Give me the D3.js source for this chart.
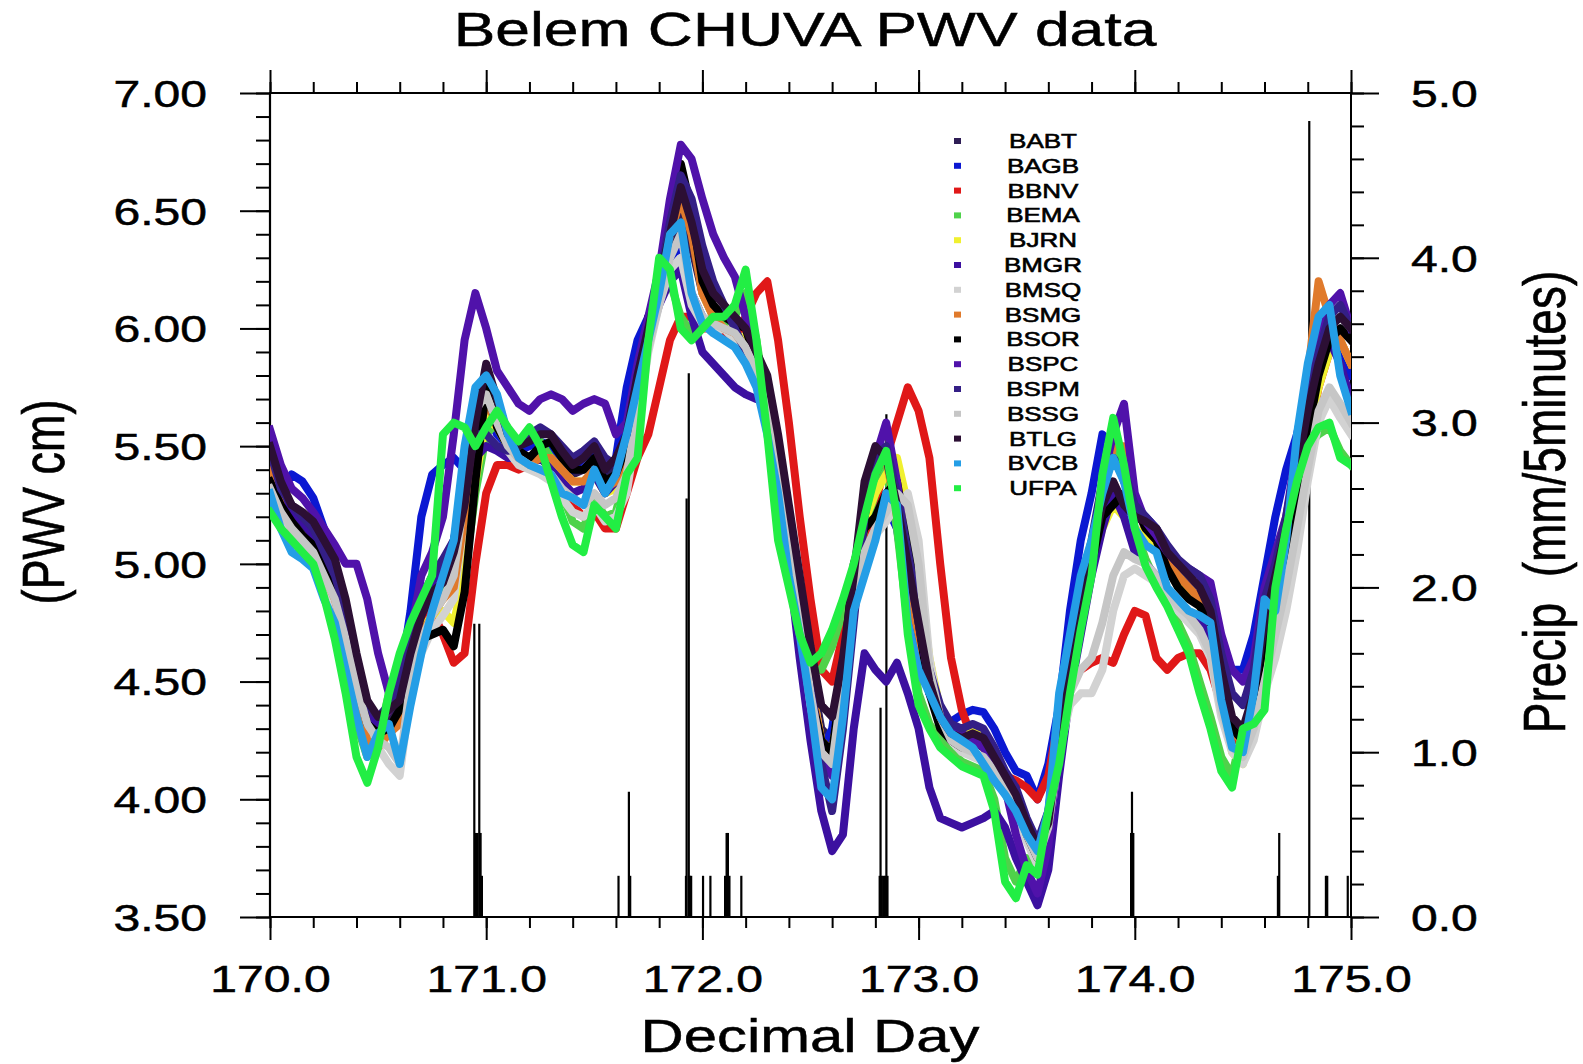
<!DOCTYPE html>
<html>
<head>
<meta charset="utf-8">
<script src="https://cdn.jsdelivr.net/npm/d3@7"></script>
<style>
  body { margin: 0; background: #fff; }
  svg { display: block; }
  text { font-family: 'Liberation Sans', Arial, Helvetica, sans-serif; fill: #000; stroke: #000; stroke-width: 0.5px; }
</style>
</head>
<body>
<svg id="chart"></svg>
<script>
// station names, legend order (also draw order)
const STATIONS = ['BABT', 'BAGB', 'BBNV', 'BEMA', 'BJRN', 'BMGR', 'BMSQ', 'BSMG',
  'BSOR', 'BSPC', 'BSPM', 'BSSG', 'BTLG', 'BVCB', 'UFPA'];

const COLORS = ['#2e1d55', '#0b18d2', '#e01818', '#4fd24a', '#f0f030', '#3c10a0', '#d2d2d2', '#e07a2c',
  '#000000', '#5012aa', '#341f86', '#c6c6c6', '#2c0f34', '#249ee6', '#22ee44'];

// PWV (cm) sampled every 0.05 day from 170.00 to 175.00
const DAYS = d3.range(101).map(i => +(170 + i * 0.05).toFixed(2));

const BABT = [5.42, 5.30, 5.20, 5.15, 5.10, 5.02, 4.92, 4.75, 4.55, 4.38, 4.32, 4.35, 4.40, 4.58, 4.72,
  4.82, 4.88, 4.95, 5.15, 5.50, 5.70, 5.62, 5.52, 5.48, 5.45, 5.50, 5.48, 5.42, 5.38, 5.40,
  5.45, 5.38, 5.40, 5.52, 5.75, 5.95, 6.15, 6.35, 6.50, 6.35, 6.15, 6.05, 6.00, 5.95, 5.92,
  5.85, 5.72, 5.50, 5.20, 4.90, 4.55, 4.30, 4.25, 4.55, 4.90, 5.20, 5.35, 5.40, 5.20, 4.95,
  4.70, 4.48, 4.33, 4.27, 4.24, 4.25, 4.24, 4.15, 4.08, 4.00, 3.88, 3.78, 3.92, 4.28, 4.62,
  4.85, 5.00, 5.20, 5.28, 5.22, 5.15, 5.12, 5.10, 5.00, 4.95, 4.90, 4.85, 4.75, 4.50, 4.30,
  4.28, 4.42, 4.72, 4.92, 5.10, 5.35, 5.60, 5.80, 5.95, 6.00, 5.95];

const BAGB = [5.40, 5.30, 5.38, 5.35, 5.28, 5.15, 5.00, 4.80, 4.55, 4.35, 4.32, 4.40, 4.50, 4.80, 5.20,
  5.38, 5.42, 5.45, 5.40, 5.60, 5.65, 5.55, 5.50, 5.48, 5.50, 5.52, 5.50, 5.45, 5.40, 5.45,
  5.48, 5.40, 5.45, 5.75, 5.95, 6.05, 6.15, 6.30, 6.35, 6.15, 6.05, 6.00, 5.98, 5.95, 5.90,
  5.80, 5.65, 5.40, 5.10, 4.80, 4.45, 4.20, 4.30, 4.60, 4.90, 5.10, 5.20, 5.25, 5.15, 4.85,
  4.60, 4.45, 4.35, 4.33, 4.36, 4.38, 4.37, 4.30, 4.20, 4.12, 4.10, 4.00, 4.15, 4.40, 4.80,
  5.10, 5.30, 5.55, 5.50, 5.35, 5.25, 5.20, 5.15, 5.00, 4.95, 4.90, 4.85, 4.80, 4.65, 4.55,
  4.55, 4.70, 4.95, 5.20, 5.40, 5.55, 5.75, 5.95, 6.00, 5.95, 5.80];

const BBNV = [5.35, 5.20, 5.12, 5.08, 5.02, 4.92, 4.80, 4.62, 4.45, 4.35, 4.32, 4.38, 4.45, 4.60, 4.72,
  4.80, 4.70, 4.58, 4.62, 5.00, 5.30, 5.42, 5.42, 5.40, 5.42, 5.45, 5.42, 5.35, 5.25, 5.20,
  5.22, 5.15, 5.15, 5.30, 5.45, 5.55, 5.75, 5.95, 6.05, 6.05, 6.00, 6.00, 5.98, 5.95, 6.05,
  6.15, 6.20, 5.95, 5.60, 5.20, 4.85, 4.55, 4.50, 4.70, 4.95, 5.10, 5.25, 5.45, 5.60, 5.75,
  5.65, 5.45, 5.00, 4.60, 4.38, 4.25, 4.22, 4.18, 4.10, 4.08, 4.05, 4.00, 4.10, 4.35, 4.50,
  4.55, 4.58, 4.60, 4.58, 4.70, 4.80, 4.78, 4.60, 4.55, 4.60, 4.62, 4.62, 4.55, 4.40, 4.25,
  4.25, 4.40, 4.75, 4.95, 5.10, 5.25, 5.50, 5.75, 5.90, 5.95, 5.85];

const BEMA = [5.28, 5.18, 5.10, 5.05, 5.00, 4.90, 4.75, 4.55, 4.32, 4.18, 4.25, 4.45, 4.60, 4.72, 4.82,
  4.88, 4.90, 4.92, 4.95, 5.30, 5.55, 5.60, 5.55, 5.50, 5.55, 5.52, 5.45, 5.30, 5.18, 5.15,
  5.28, 5.20, 5.22, 5.40, 5.60, 5.95, 6.25, 6.20, 6.05, 5.98, 6.00, 6.02, 6.02, 6.05, 6.15,
  5.95, 5.65, 5.25, 4.95, 4.72, 4.55, 4.55, 4.65, 4.80, 4.95, 5.15, 5.30, 5.40, 5.15, 4.75,
  4.45, 4.32, 4.25, 4.20, 4.16, 4.14, 4.12, 4.00, 3.75, 3.65, 3.75, 3.72, 3.95, 4.20, 4.50,
  4.75, 4.98, 5.30, 5.55, 5.40, 5.15, 5.02, 4.92, 4.85, 4.75, 4.65, 4.50, 4.35, 4.18, 4.10,
  4.30, 4.35, 4.45, 4.92, 5.15, 5.35, 5.50, 5.55, 5.58, 5.48, 5.42];

const BJRN = [5.38, 5.22, 5.15, 5.10, 5.05, 4.95, 4.85, 4.68, 4.48, 4.32, 4.25, 4.28, 4.35, 4.58, 4.72,
  4.78, 4.80, 4.75, 4.95, 5.35, 5.62, 5.58, 5.50, 5.45, 5.42, 5.45, 5.45, 5.40, 5.35, 5.35,
  5.38, 5.30, 5.32, 5.42, 5.68, 5.95, 6.20, 6.50, 6.65, 6.45, 6.15, 6.05, 6.00, 5.98, 5.95,
  5.85, 5.70, 5.45, 5.15, 4.85, 4.50, 4.25, 4.20, 4.50, 4.90, 5.18, 5.30, 5.38, 5.45, 5.25,
  4.95, 4.60, 4.38, 4.30, 4.28, 4.30, 4.28, 4.20, 4.10, 4.02, 3.88, 3.78, 3.90, 4.25, 4.55,
  4.80, 4.98, 5.15, 5.25, 5.20, 5.15, 5.12, 5.08, 4.98, 4.92, 4.88, 4.82, 4.72, 4.45, 4.20,
  4.15, 4.35, 4.65, 4.90, 5.10, 5.35, 5.55, 5.75, 5.90, 5.95, 5.85];

const BMGR = [5.45, 5.30, 5.22, 5.18, 5.12, 5.02, 4.90, 4.72, 4.50, 4.35, 4.32, 4.38, 4.45, 4.62, 4.80,
  4.92, 5.00, 5.10, 5.30, 5.45, 5.50, 5.48, 5.45, 5.45, 5.42, 5.45, 5.40, 5.35, 5.30, 5.32,
  5.38, 5.30, 5.35, 5.50, 5.75, 5.95, 6.10, 6.20, 6.25, 6.05, 5.90, 5.85, 5.80, 5.75, 5.72,
  5.70, 5.72, 5.35, 5.00, 4.60, 4.25, 3.95, 3.78, 3.85, 4.30, 4.62, 4.55, 4.50, 4.58, 4.45,
  4.30, 4.05, 3.92, 3.90, 3.88, 3.90, 3.92, 3.95, 3.88, 3.75, 3.65, 3.55, 3.70, 4.10, 4.45,
  4.70, 4.95, 5.15, 5.30, 5.20, 5.05, 5.00, 4.95, 4.88, 4.82, 4.78, 4.75, 4.70, 4.50, 4.30,
  4.25, 4.40, 4.70, 4.95, 5.10, 5.40, 5.70, 5.90, 5.95, 5.85, 5.70];

const BMSQ = [5.30, 5.20, 5.12, 5.08, 5.02, 4.92, 4.82, 4.62, 4.42, 4.28, 4.22, 4.15, 4.10, 4.45, 4.62,
  4.72, 4.78, 4.85, 5.20, 5.60, 5.75, 5.65, 5.48, 5.42, 5.40, 5.38, 5.35, 5.28, 5.22, 5.20,
  5.25, 5.18, 5.20, 5.30, 5.60, 5.90, 6.10, 6.25, 6.30, 6.10, 6.02, 5.98, 6.00, 5.95, 5.88,
  5.78, 5.60, 5.35, 5.05, 4.75, 4.40, 4.15, 4.10, 4.45, 4.85, 5.05, 5.12, 5.18, 5.25, 5.30,
  5.10, 4.60, 4.35, 4.25, 4.20, 4.18, 4.16, 4.10, 4.02, 3.95, 3.82, 3.72, 3.85, 4.20, 4.40,
  4.45, 4.45, 4.55, 4.80, 4.95, 4.98, 4.95, 4.92, 4.85, 4.80, 4.75, 4.70, 4.60, 4.35, 4.20,
  4.15, 4.25, 4.45, 4.60, 4.80, 5.05, 5.35, 5.60, 5.70, 5.62, 5.55];

const BSMG = [5.40, 5.25, 5.15, 5.12, 5.05, 4.95, 4.85, 4.68, 4.45, 4.25, 4.22, 4.28, 4.32, 4.55, 4.70,
  4.78, 4.85, 4.90, 5.20, 5.55, 5.68, 5.60, 5.50, 5.45, 5.42, 5.45, 5.45, 5.40, 5.35, 5.35,
  5.40, 5.32, 5.35, 5.45, 5.70, 5.95, 6.15, 6.40, 6.55, 6.40, 6.15, 6.05, 6.00, 5.98, 5.92,
  5.82, 5.68, 5.45, 5.15, 4.85, 4.50, 4.25, 4.20, 4.50, 4.90, 5.20, 5.40, 5.45, 5.20, 4.90,
  4.70, 4.48, 4.33, 4.27, 4.25, 4.26, 4.25, 4.17, 4.08, 4.00, 3.87, 3.77, 3.90, 4.25, 4.58,
  4.85, 5.05, 5.30, 5.50, 5.50, 5.25, 5.15, 5.10, 5.02, 4.95, 4.90, 4.85, 4.75, 4.48, 4.28,
  4.25, 4.40, 4.75, 4.95, 5.15, 5.45, 5.80, 6.20, 6.05, 5.95, 5.85];

const BSOR = [5.35, 5.25, 5.18, 5.12, 5.08, 4.98, 4.88, 4.70, 4.50, 4.32, 4.28, 4.30, 4.38, 4.55, 4.68,
  4.70, 4.72, 4.65, 4.88, 5.35, 5.75, 5.58, 5.50, 5.48, 5.45, 5.50, 5.52, 5.45, 5.40, 5.40,
  5.45, 5.35, 5.38, 5.50, 5.80, 6.05, 6.15, 6.45, 6.70, 6.50, 6.20, 6.10, 6.05, 6.02, 6.00,
  5.85, 5.70, 5.45, 5.15, 4.85, 4.45, 4.25, 4.20, 4.55, 5.00, 5.15, 5.20, 5.30, 5.35, 5.10,
  4.75, 4.45, 4.30, 4.25, 4.22, 4.25, 4.22, 4.15, 4.08, 4.00, 3.85, 3.75, 3.88, 4.25, 4.55,
  4.80, 5.00, 5.20, 5.25, 5.30, 5.25, 5.15, 5.10, 4.98, 4.90, 4.85, 4.82, 4.75, 4.50, 4.30,
  4.25, 4.40, 4.70, 4.90, 5.05, 5.30, 5.55, 5.80, 5.95, 6.00, 5.95];

const BSPC = [5.57, 5.42, 5.32, 5.28, 5.22, 5.15, 5.08, 5.00, 5.00, 4.85, 4.62, 4.45, 4.50, 4.70, 4.95,
  5.05, 5.20, 5.55, 5.95, 6.15, 6.00, 5.82, 5.75, 5.68, 5.65, 5.70, 5.72, 5.70, 5.65, 5.68,
  5.70, 5.68, 5.55, 5.60, 5.85, 6.05, 6.25, 6.55, 6.78, 6.72, 6.55, 6.40, 6.30, 6.22, 6.05,
  5.90, 5.70, 5.40, 5.10, 4.80, 4.45, 4.20, 4.10, 4.50, 4.85, 5.25, 5.45, 5.60, 5.35, 5.00,
  4.75, 4.50, 4.35, 4.30, 4.28, 4.25, 4.22, 4.15, 4.05, 3.85, 3.70, 3.60, 3.80, 4.25, 4.55,
  4.80, 5.05, 5.35, 5.55, 5.68, 5.30, 5.18, 5.12, 5.05, 5.00, 4.98, 4.95, 4.92, 4.70, 4.55,
  4.50, 4.60, 4.90, 5.05, 5.20, 5.50, 5.75, 5.95, 6.10, 6.15, 6.00];

const BSPM = [5.48, 5.32, 5.25, 5.20, 5.15, 5.05, 4.95, 4.80, 4.60, 4.40, 4.35, 4.40, 4.48, 4.68, 4.85,
  4.95, 5.02, 5.10, 5.35, 5.55, 5.55, 5.50, 5.48, 5.50, 5.55, 5.58, 5.55, 5.50, 5.45, 5.48,
  5.52, 5.45, 5.42, 5.55, 5.80, 6.00, 6.20, 6.45, 6.65, 6.55, 6.35, 6.20, 6.10, 6.00, 5.90,
  5.80, 5.65, 5.45, 5.15, 4.85, 4.50, 4.15, 3.95, 4.30, 4.75, 5.20, 5.45, 5.50, 5.30, 5.05,
  4.80, 4.55, 4.40, 4.32, 4.30, 4.32, 4.30, 4.22, 4.12, 4.05, 3.92, 3.82, 3.95, 4.30, 4.60,
  4.90, 5.10, 5.35, 5.45, 5.40, 5.25, 5.20, 5.15, 5.08, 5.02, 4.98, 4.95, 4.85, 4.62, 4.45,
  4.40, 4.55, 4.85, 5.00, 5.20, 5.45, 5.70, 5.90, 6.05, 6.10, 6.00];

const BSSG = [5.32, 5.22, 5.15, 5.10, 5.05, 4.95, 4.85, 4.68, 4.48, 4.32, 4.25, 4.22, 4.15, 4.50, 4.68,
  4.78, 4.85, 4.95, 5.30, 5.65, 5.72, 5.60, 5.50, 5.45, 5.42, 5.40, 5.38, 5.32, 5.28, 5.25,
  5.30, 5.25, 5.28, 5.38, 5.65, 5.92, 6.10, 6.30, 6.40, 6.15, 6.05, 6.02, 6.00, 5.98, 5.92,
  5.82, 5.65, 5.40, 5.10, 4.80, 4.45, 4.20, 4.15, 4.50, 4.88, 5.05, 5.15, 5.22, 5.30, 5.25,
  5.00, 4.55, 4.35, 4.25, 4.22, 4.20, 4.18, 4.12, 4.05, 3.98, 3.85, 3.75, 3.88, 4.22, 4.45,
  4.55, 4.60, 4.75, 4.95, 5.05, 5.02, 5.00, 4.95, 4.88, 4.82, 4.78, 4.72, 4.62, 4.38, 4.22,
  4.18, 4.30, 4.50, 4.70, 4.90, 5.15, 5.40, 5.65, 5.75, 5.68, 5.60];

const BTLG = [5.50, 5.35, 5.25, 5.22, 5.18, 5.10, 5.02, 4.85, 4.62, 4.42, 4.35, 4.38, 4.42, 4.62, 4.78,
  4.88, 4.92, 5.05, 5.25, 5.60, 5.85, 5.70, 5.55, 5.50, 5.52, 5.55, 5.55, 5.48, 5.42, 5.45,
  5.50, 5.40, 5.45, 5.55, 5.80, 6.00, 6.20, 6.40, 6.60, 6.45, 6.25, 6.15, 6.10, 6.05, 6.00,
  5.90, 5.80, 5.55, 5.25, 4.95, 4.65, 4.40, 4.35, 4.60, 4.95, 5.35, 5.50, 5.45, 5.25, 5.00,
  4.75, 4.50, 4.35, 4.28, 4.26, 4.28, 4.26, 4.18, 4.10, 4.02, 3.90, 3.80, 3.90, 4.25, 4.60,
  4.85, 5.05, 5.25, 5.35, 5.25, 5.20, 5.18, 5.15, 5.05, 5.00, 4.95, 4.90, 4.80, 4.55, 4.35,
  4.30, 4.45, 4.75, 4.95, 5.15, 5.40, 5.65, 5.85, 6.00, 6.05, 6.00];

const BVCB = [5.30, 5.15, 5.05, 5.02, 4.98, 4.85, 4.75, 4.55, 4.35, 4.18, 4.28, 4.32, 4.15, 4.40, 4.62,
  4.80, 4.95, 5.10, 5.50, 5.75, 5.80, 5.72, 5.55, 5.45, 5.42, 5.40, 5.38, 5.30, 5.28, 5.25,
  5.40, 5.30, 5.38, 5.55, 5.75, 5.95, 6.15, 6.40, 6.45, 6.15, 6.02, 5.98, 5.95, 5.92, 5.85,
  5.75, 5.55, 5.30, 4.95, 4.70, 4.40, 4.05, 4.00, 4.35, 4.80, 4.95, 5.10, 5.30, 5.25, 4.75,
  4.55, 4.45, 4.35, 4.28, 4.25, 4.22, 4.15, 4.08, 4.02, 3.95, 3.85, 3.78, 3.95, 4.45, 4.70,
  4.95, 5.10, 5.30, 5.45, 5.35, 5.15, 5.08, 5.05, 4.90, 4.85, 4.80, 4.78, 4.75, 4.42, 4.22,
  4.20, 4.45, 4.85, 4.80, 5.10, 5.55, 5.85, 6.05, 6.10, 5.80, 5.65];

const UFPA = [5.22, 5.15, 5.10, 5.05, 5.00, 4.86, 4.68, 4.45, 4.18, 4.07, 4.22, 4.45, 4.62, 4.75, 4.85,
  4.95, 5.55, 5.60, 5.58, 5.50, 5.58, 5.65, 5.58, 5.52, 5.58, 5.50, 5.35, 5.20, 5.08, 5.05,
  5.25, 5.20, 5.15, 5.38, 5.45, 5.95, 6.30, 6.25, 6.00, 5.95, 6.00, 6.05, 6.05, 6.10, 6.25,
  5.95, 5.55, 5.10, 4.90, 4.70, 4.58, 4.62, 4.72, 4.85, 5.00, 5.20, 5.38, 5.48, 5.20, 4.70,
  4.40, 4.30, 4.22, 4.18, 4.14, 4.12, 4.10, 3.95, 3.65, 3.58, 3.72, 3.68, 3.95, 4.15, 4.45,
  4.72, 4.95, 5.38, 5.62, 5.42, 5.15, 4.99, 4.90, 4.82, 4.72, 4.62, 4.45, 4.30, 4.12, 4.05,
  4.30, 4.32, 4.38, 4.90, 5.15, 5.35, 5.50, 5.58, 5.60, 5.45, 5.42];

const SERIES = [BABT, BAGB, BBNV, BEMA, BJRN, BMGR, BMSQ, BSMG, BSOR, BSPC, BSPM, BSSG, BTLG, BVCB, UFPA];

// precipitation (mm / 5 minutes): [decimal day, amount]
const PRECIP = [
  [170.000, 5.08],
  [170.945, 1.78], [170.950, 0.51], [170.955, 0.51], [170.960, 0.51], [170.968, 1.78], [170.974, 0.51], [170.980, 0.25],
  [171.612, 0.25], [171.660, 0.76], [171.666, 0.25],
  [171.924, 0.25], [171.927, 2.54], [171.937, 3.30], [171.942, 0.25], [171.948, 0.25],
  [172.003, 0.25], [172.037, 0.25], [172.105, 0.25], [172.112, 0.51], [172.118, 0.51], [172.125, 0.25], [172.180, 0.25],
  [172.820, 0.25], [172.824, 1.27], [172.830, 0.25], [172.838, 0.25], [172.845, 0.25], [172.851, 3.05], [172.856, 0.25],
  [173.983, 0.51], [173.987, 0.76], [173.993, 0.51],
  [174.662, 0.25], [174.668, 0.51],
  [174.807, 4.83],
  [174.884, 0.25], [174.890, 0.25],
  [174.985, 0.25]
];

const X_MAJOR = [170, 171, 172, 173, 174, 175];
const X_MINOR = d3.range(170, 175.001, 0.2);
const PWV_MAJOR = [3.5, 4.0, 4.5, 5.0, 5.5, 6.0, 6.5, 7.0];
const PWV_MINOR = d3.range(3.5, 7.001, 0.1);
const PRECIP_MAJOR = [0, 1, 2, 3, 4, 5];
const PRECIP_MINOR = d3.range(0, 5.001, 0.2);

const config = {
  width: 1583,
  height: 1064,
  margin: {top: 93, right: 232, bottom: 147, left: 270},
  stretch: 1.3   // the reference glyphs are drawn wide
};

const svg = d3.select('#chart')
  .attr('width', config.width)
  .attr('height', config.height);

const innerW = config.width - config.margin.left - config.margin.right;
const innerH = config.height - config.margin.top - config.margin.bottom;

const chart = svg.append('g')
  .attr('transform', `translate(${config.margin.left},${config.margin.top})`);

const xScale = d3.scaleLinear().domain([170, 175]).range([0, innerW]);
const yLeft = d3.scaleLinear().domain([3.5, 7.0]).range([innerH, 0]);
const yRight = d3.scaleLinear().domain([0, 5]).range([innerH, 0]);

svg.append('clipPath')
  .attr('id', 'plot-area')
  .append('rect')
  .attr('x', config.margin.left)
  .attr('y', config.margin.top)
  .attr('width', innerW)
  .attr('height', innerH);

// precipitation bars on the right axis
chart.append('g')
  .attr('class', 'precip')
  .selectAll('line')
  .data(PRECIP)
  .join('line')
  .attr('x1', d => xScale(d[0]))
  .attr('x2', d => xScale(d[0]))
  .attr('y1', yRight(0))
  .attr('y2', d => yRight(Math.min(d[1], 5)))
  .attr('stroke', '#000')
  .attr('stroke-width', 2.2);

// PWV series, drawn in legend order so UFPA ends on top
const line = d3.line()
  .x((d, i) => xScale(DAYS[i]))
  .y(d => yLeft(d));

const marks = svg.append('g')
  .attr('clip-path', 'url(#plot-area)')
  .append('g')
  .attr('transform', `translate(${config.margin.left},${config.margin.top})`);

marks.selectAll('.pwv-line')
  .data(SERIES)
  .join('path')
  .attr('class', 'pwv-line')
  .attr('d', d => line(d))
  .attr('fill', 'none')
  .attr('stroke', (d, i) => COLORS[i])
  .attr('stroke-width', 8)
  .attr('stroke-linejoin', 'round')
  .attr('stroke-linecap', 'square');

// axes: major and minor ticks all point outward
function drawAxis(axisFn, scale, major, minor, bigTick, smallTick, transform, withLabels, fmt) {
  const gMinor = chart.append('g').attr('transform', transform)
    .call(axisFn(scale).tickValues(minor).tickSize(smallTick).tickSizeOuter(0).tickFormat(''));
  const gMajor = chart.append('g').attr('transform', transform)
    .call(axisFn(scale).tickValues(major).tickSize(bigTick).tickSizeOuter(0)
      .tickFormat(withLabels ? fmt : ''));
  [gMinor, gMajor].forEach(g => {
    g.select('.domain').remove();
    g.selectAll('line').attr('stroke', '#000').attr('stroke-width', 2);
  });
  return gMajor;
}

const xBottom = drawAxis(d3.axisBottom, xScale, X_MAJOR, X_MINOR, 23, 11, `translate(0,${innerH})`, true, d3.format('.1f'));
drawAxis(d3.axisTop, xScale, X_MAJOR, X_MINOR, 23, 11, 'translate(0,0)', false);
const yLeftG = drawAxis(d3.axisLeft, yLeft, PWV_MAJOR, PWV_MINOR, 30, 14, 'translate(0,0)', true, d3.format('.2f'));
const yRightG = drawAxis(d3.axisRight, yRight, PRECIP_MAJOR, PRECIP_MINOR, 28, 13, `translate(${innerW},0)`, true, d3.format('.1f'));

xBottom.selectAll('text')
  .attr('dy', null)
  .attr('y', 75)
  .attr('transform', `scale(${config.stretch},1)`)
  .style('font-size', '37px');

yLeftG.selectAll('text')
  .attr('x', -63 / config.stretch)
  .attr('dy', '0.36em')
  .attr('transform', `scale(${config.stretch},1)`)
  .style('font-size', '37px');

yRightG.selectAll('text')
  .attr('x', 60 / config.stretch)
  .attr('dy', '0.36em')
  .attr('transform', `scale(${config.stretch},1)`)
  .style('font-size', '37px');

// plot frame
chart.append('rect')
  .attr('width', innerW)
  .attr('height', innerH)
  .attr('fill', 'none')
  .attr('stroke', '#000')
  .attr('stroke-width', 2);

// titles
svg.append('text')
  .attr('transform', `translate(805,46) scale(${config.stretch},1)`)
  .attr('text-anchor', 'middle')
  .style('font-size', '48px')
  .text('Belem CHUVA PWV data');

svg.append('text')
  .attr('transform', `translate(810,1052) scale(${config.stretch},1)`)
  .attr('text-anchor', 'middle')
  .style('font-size', '46px')
  .text('Decimal Day');

svg.append('text')
  .attr('transform', `translate(64,502) rotate(-90) scale(1,${config.stretch})`)
  .attr('text-anchor', 'middle')
  .style('font-size', '45px')
  .text('(PWV cm)');

svg.append('text')
  .attr('transform', `translate(1565,502) rotate(-90) scale(1,${config.stretch})`)
  .attr('text-anchor', 'middle')
  .style('font-size', '46px')
  .style('white-space', 'pre')
  .text('Precip  (mm/5minutes)');

// legend
const legend = svg.append('g').attr('class', 'legend');
const rowH = 24.8;

legend.selectAll('rect')
  .data(STATIONS)
  .join('rect')
  .attr('x', 954)
  .attr('y', (d, i) => 141 + i * rowH - 3)
  .attr('width', 7)
  .attr('height', 6)
  .attr('fill', (d, i) => COLORS[i]);

legend.selectAll('text')
  .data(STATIONS)
  .join('text')
  .attr('transform', (d, i) => `translate(1043,${141 + i * rowH + 7}) scale(${config.stretch},1)`)
  .attr('text-anchor', 'middle')
  .style('font-size', '20px')
  .style('stroke-width', '0.6px')
  .text(d => d);
</script>
</body>
</html>
